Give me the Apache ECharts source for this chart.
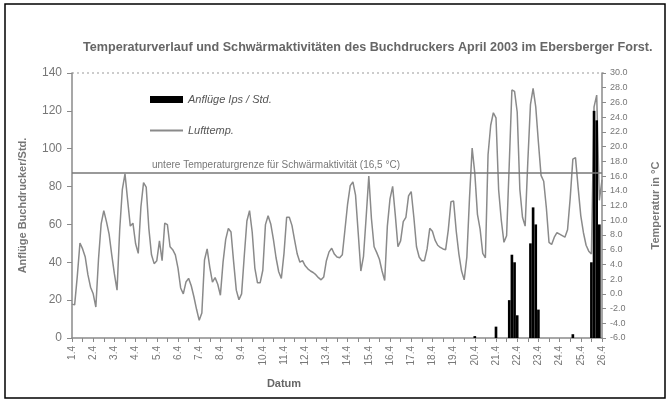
<!DOCTYPE html>
<html>
<head>
<meta charset="utf-8">
<script src="https://cdn.jsdelivr.net/npm/echarts@6/dist/echarts.min.js"></script>
<style>
  html, body { margin: 0; padding: 0; background: #fff; }
  #chart { width: 669px; height: 403px; }
</style>
</head>
<body>
<div id="chart"></div>
<script>
// Tage (April), je 8 Messungen pro Tag (alle 3 Std.)
var days = ["1.4", "2.4", "3.4", "4.4", "5.4", "6.4", "7.4", "8.4", "9.4", "10.4", "11.4", "12.4", "13.4",
  "14.4", "15.4", "16.4", "17.4", "18.4", "19.4", "20.4", "21.4", "22.4", "23.4", "24.4", "25.4", "26.4"];
var perDay = 8;

// Lufttemperatur in °C
var lufttemp = [
  -1.4, -1.5, 2.4, 6.9, 6.1, 5.0, 2.6, 0.9, 0.0, -1.8,
  4.7, 9.5, 11.3, 9.8, 8.1, 5.3, 2.7, 0.5, 8.7, 14.2,
  16.3, 12.7, 9.2, 9.6, 6.8, 5.5, 11.8, 15.1, 14.5, 8.9,
  5.3, 4.1, 4.5, 7.2, 4.5, 9.6, 9.4, 6.4, 6.0, 5.3,
  3.5, 0.8, 0.0, 1.6, 2.1, 1.1, -0.4, -2.1, -3.6, -2.6,
  4.6, 6.1, 3.6, 1.6, 2.2, 1.3, -0.2, 4.3, 7.4, 8.9,
  8.4, 4.3, 0.5, -0.8, 0.0, 5.1, 9.9, 11.3, 8.4, 3.5,
  1.5, 1.5, 3.2, 9.4, 10.6, 9.5, 7.4, 4.9, 3.0, 2.1,
  5.5, 10.4, 10.4, 9.3, 7.3, 5.4, 4.3, 4.5, 3.8, 3.4,
  3.1, 2.9, 2.6, 2.2, 1.9, 2.3, 4.5, 5.7, 6.2, 5.4,
  5.0, 4.9, 5.3, 8.7, 12.2, 14.7, 15.2, 13.4, 8.3, 3.1,
  5.1, 10.4, 16.0, 10.2, 6.4, 5.6, 4.7, 3.1, 1.8, 9.2,
  12.9, 14.6, 10.7, 6.4, 7.2, 9.8, 10.4, 13.3, 13.9, 10.4,
  6.4, 5.0, 4.5, 4.5, 6.1, 8.9, 8.5, 7.3, 6.6, 6.3,
  6.1, 6.0, 8.7, 12.5, 12.6, 8.5, 5.4, 3.1, 1.9, 5.0,
  13.0, 19.8, 16.4, 10.8, 8.8, 5.5, 4.9, 18.9, 22.9, 24.6,
  23.9, 14.1, 10.0, 7.0, 7.9, 17.6, 27.7, 27.5, 24.7, 14.2,
  10.4, 9.2, 17.9, 25.7, 27.9, 25.4, 20.6, 16.1, 15.3, 11.7,
  7.0, 6.7, 7.7, 8.3, 8.1, 7.9, 7.7, 8.7, 13.0, 18.3,
  18.5, 14.4, 10.6, 8.3, 6.6, 5.8, 5.4, 25.4, 27.0, 12.7,
  15.5
];

// Anflüge Ips / Std. (nur Messungen mit Anflug, übrige 0)
var anflugIndex = [152, 160, 165, 166, 167, 168, 173, 174, 175, 176, 189, 196, 197, 198, 199];
var anflugWert = [1, 6, 20, 44, 40, 12, 50, 69, 60, 15, 2, 40, 120, 115, 60];

var schwelle = 16.5;

var times = [];
for (var d = 0; d < days.length - 1; d++) {
  for (var h = 0; h < perDay; h++) times.push(h === 0 ? days[d] : days[d] + " " + (h * 3) + ":00");
}
times.push(days[days.length - 1]);

var anfluege = times.map(function () { return 0; });
anflugIndex.forEach(function (idx, k) { anfluege[idx] = anflugWert[k]; });

var grey = "#8a8a8a";
var chart = echarts.init(document.getElementById("chart"));
chart.setOption({
  animation: false,
  backgroundColor: "#fff",
  textStyle: { fontFamily: "Liberation Sans, Arial, sans-serif" },
  title: {
    text: "Temperaturverlauf und Schwärmaktivitäten des Buchdruckers April 2003 im Ebersberger Forst.",
    left: 78,
    top: 36,
    textStyle: { fontSize: 12.6, fontWeight: "bold", color: "#666" }
  },
  legend: {
    orient: "vertical",
    left: 145,
    top: 89,
    itemGap: 20,
    itemWidth: 33,
    itemHeight: 7,
    textStyle: { fontSize: 11, fontStyle: "italic", color: "#555" },
    data: [
      { name: "Anflüge Ips / Std.", icon: "rect" },
      { name: "Lufttemp.", icon: "path://M0,0H33V2H0Z" }
    ]
  },
  grid: { left: 72, right: 65, top: 73, bottom: 65 },
  xAxis: {
    type: "category",
    data: times,
    boundaryGap: false,
    name: "Datum",
    nameLocation: "middle",
    nameGap: 40,
    nameTextStyle: { fontSize: 11, fontWeight: "bold", color: "#666", padding: [0, 106, 0, 0] },
    axisLine: { lineStyle: { color: grey, width: 1.5 } },
    axisTick: { interval: 3, length: 4, lineStyle: { color: grey } },
    axisLabel: {
      interval: perDay - 1,
      rotate: 90,
      fontSize: 10,
      color: "#777",
      margin: 8,
      formatter: function (v) { return v.split(" ")[0]; }
    },
    splitLine: { show: false }
  },
  yAxis: [
    {
      type: "value",
      min: 0,
      max: 140,
      interval: 20,
      name: "Anflüge Buchdrucker/Std.",
      nameLocation: "middle",
      nameRotate: 90,
      nameGap: 44,
      nameTextStyle: { fontSize: 11, fontWeight: "bold", color: "#777" },
      axisLine: { show: true, lineStyle: { color: grey, width: 1.5 } },
      axisTick: { show: true, inside: false, length: 5, lineStyle: { color: grey } },
      axisLabel: { fontSize: 12, color: "#777", margin: 10 },
      splitLine: { show: false }
    },
    {
      type: "value",
      min: -6,
      max: 30,
      interval: 2,
      position: "right",
      name: "Temperatur in °C",
      nameLocation: "middle",
      nameRotate: 90,
      nameGap: 48,
      nameTextStyle: { fontSize: 11, fontWeight: "bold", color: "#777" },
      axisLine: { show: true, lineStyle: { color: grey, width: 1.5 } },
      axisTick: { show: true, length: 4, lineStyle: { color: grey } },
      axisLabel: { fontSize: 9, color: "#777", margin: 8, formatter: function (v) { return v.toFixed(1); } },
      splitLine: { show: false }
    }
  ],
  graphic: [
    {
      type: "rect",
      shape: { x: 5, y: 4, width: 660, height: 394 },
      style: { fill: "none", stroke: "#000", lineWidth: 1.5 },
      silent: true
    },
    {
      type: "line",
      shape: { x1: 72, y1: 73, x2: 604, y2: 73 },
      style: { stroke: "#999", lineWidth: 1, lineDash: [2, 3] },
      silent: true
    }
  ],
  series: [
    {
      name: "Anflüge Ips / Std.",
      type: "bar",
      yAxisIndex: 0,
      data: anfluege,
      barCategoryGap: "0%",
      itemStyle: { color: "#000" },
      z: 3
    },
    {
      name: "Lufttemp.",
      type: "line",
      yAxisIndex: 1,
      data: lufttemp,
      symbol: "none",
      lineStyle: { color: grey, width: 1.5 },
      itemStyle: { color: grey },
      z: 2,
      markLine: {
        silent: true,
        symbol: "none",
        lineStyle: { color: "#777", width: 1.5, type: "solid" },
        label: {
          position: "insideStartTop",
          formatter: "untere Temperaturgrenze für Schwärmaktivität (16,5 °C)",
          fontSize: 10,
          color: "#777",
          padding: [0, 0, 0, 78],
          distance: 2
        },
        data: [{ yAxis: schwelle }]
      }
    }
  ]
});
</script>
</body>
</html>
